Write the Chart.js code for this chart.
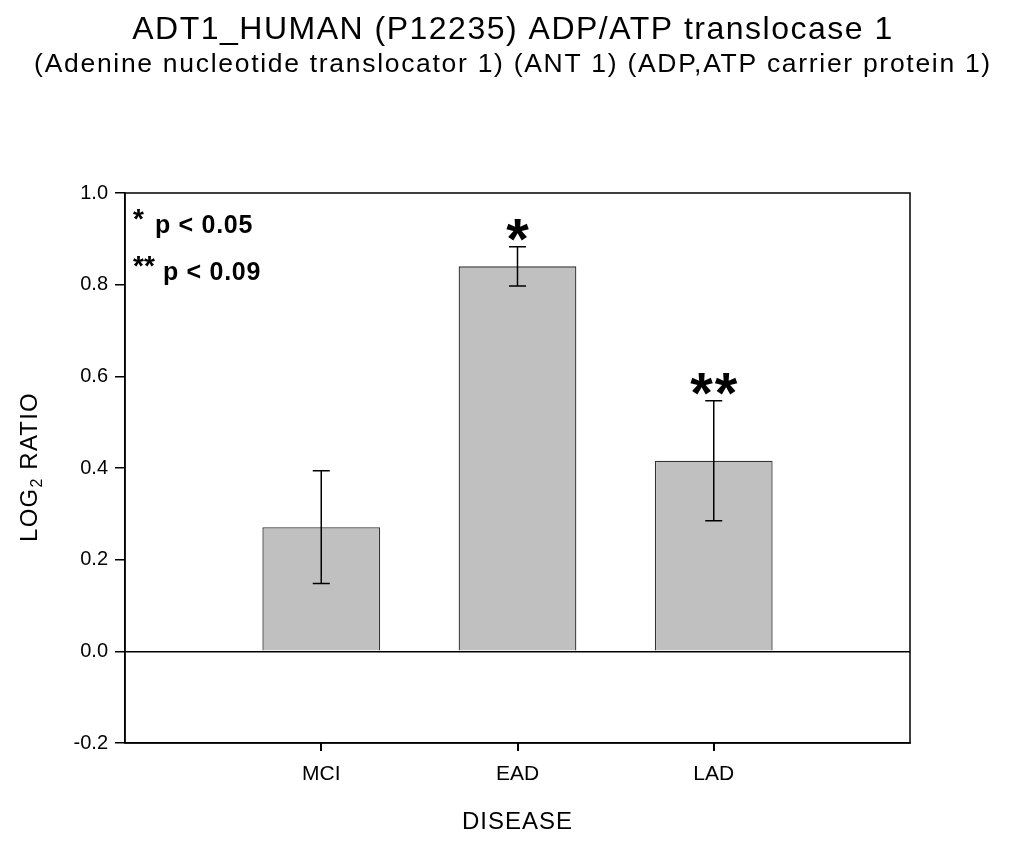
<!DOCTYPE html>
<html lang="en">
<head>
  <meta charset="UTF-8">
  <title>ADT1_HUMAN ADP/ATP translocase 1</title>
  <script src="https://cdn.jsdelivr.net/npm/chart.js"></script>
  <style>
    body {
      margin: 0;
      background: #fff;
    }
    #wrap {
      width: 1017px;
      height: 843px;
    }
  </style>
</head>
<body>
  <div id="wrap"><canvas id="chart" width="1017" height="843"></canvas></div>

  <script>
    // data (empty slots pad the axis on both sides)
    const categories = ['', 'MCI', 'EAD', 'LAD', ''];
    const log2Ratio = [null, 0.271, 0.840, 0.416, null];
    const stdError = [null, 0.123, 0.043, 0.131, null];
    const sigMarks = ['', '', '*', '**', ''];
    const yTicks = [-0.2, 0.0, 0.2, 0.4, 0.6, 0.8, 1.0];

    const titleLines = [
      'ADT1_HUMAN (P12235) ADP/ATP translocase 1',
      '(Adenine nucleotide translocator 1) (ANT 1) (ADP,ATP carrier protein 1)'
    ];
    const sigNotes = [['*', 'p < 0.05'], ['**', 'p < 0.09']];

    const FONT = '"Liberation Sans", Arial, Helvetica, sans-serif';

    const extras = {
      id: 'extras',
      afterDatasetsDraw(chart) {
        const ctx = chart.ctx;
        const y = chart.scales.y;
        const meta = chart.getDatasetMeta(0);
        ctx.save();
        ctx.strokeStyle = '#000';
        ctx.fillStyle = '#000';
        ctx.lineWidth = 1.5;
        log2Ratio.forEach((v, i) => {
          if (v === null) return;
          const x = meta.data[i].x;
          const top = y.getPixelForValue(v + stdError[i]);
          const bot = y.getPixelForValue(v - stdError[i]);
          ctx.beginPath();
          ctx.moveTo(x, top); ctx.lineTo(x, bot);
          ctx.moveTo(x - 8.5, top); ctx.lineTo(x + 8.5, top);
          ctx.moveTo(x - 8.5, bot); ctx.lineTo(x + 8.5, bot);
          ctx.stroke();
          if (sigMarks[i]) {
            ctx.font = 'bold 58px ' + FONT;
            ctx.textAlign = 'center';
            ctx.textBaseline = 'alphabetic';
            ctx.letterSpacing = '2px';
            ctx.fillText(sigMarks[i], x + 1, top + 12);
            ctx.letterSpacing = '0px';
          }
        });
        ctx.restore();
      },
      afterDraw(chart) {
        const ctx = chart.ctx;
        const a = chart.chartArea;
        const meta = chart.getDatasetMeta(0);
        ctx.save();
        ctx.strokeStyle = '#000';
        ctx.lineWidth = 1.5;
        ctx.strokeRect(a.left, a.top, a.right - a.left, a.bottom - a.top);

        // tick marks under the named categories
        ctx.lineWidth = 2;
        categories.forEach((c, i) => {
          if (!c) return;
          const px = Math.round(meta.data[i].x);
          ctx.beginPath();
          ctx.moveTo(px, a.bottom);
          ctx.lineTo(px, a.bottom + 8);
          ctx.stroke();
        });

        ctx.fillStyle = '#000';
        ctx.textAlign = 'center';
        ctx.textBaseline = 'alphabetic';
        ctx.font = '32px ' + FONT;
        ctx.letterSpacing = '1.5px';
        ctx.fillText(titleLines[0], 513, 39);
        ctx.font = '26.5px ' + FONT;
        ctx.letterSpacing = '1.7px';
        ctx.fillText(titleLines[1], 513, 72);

        // significance key
        ctx.textAlign = 'left';
        sigNotes.forEach((n, k) => {
          ctx.letterSpacing = '0px';
          ctx.font = 'bold 28px ' + FONT;
          ctx.fillText(n[0], 133, 228 + k * 47);
          ctx.letterSpacing = '0.7px';
          ctx.font = 'bold 25px ' + FONT;
          ctx.fillText(n[1], k ? 163 : 155, 233 + k * 47);
        });

        // axis titles
        ctx.textAlign = 'center';
        ctx.font = '24px ' + FONT;
        ctx.letterSpacing = '1px';
        ctx.fillText('DISEASE', (a.left + a.right) / 2, 829);

        ctx.translate(37, 467);
        ctx.rotate(-Math.PI / 2);
        ctx.textAlign = 'left';
        ctx.letterSpacing = '1.2px';
        const w1 = ctx.measureText('LOG').width;
        ctx.font = '16px ' + FONT;
        const w2 = ctx.measureText('2').width;
        ctx.font = '24px ' + FONT;
        const w3 = ctx.measureText(' RATIO').width;
        let x0 = -(w1 + w2 + w3) / 2;
        ctx.fillText('LOG', x0, 0);
        ctx.font = '16px ' + FONT;
        ctx.fillText('2', x0 + w1, 5);
        ctx.font = '24px ' + FONT;
        ctx.fillText(' RATIO', x0 + w1 + w2, 0);
        ctx.restore();
      }
    };

    new Chart(document.getElementById('chart'), {
      type: 'bar',
      data: {
        labels: categories,
        datasets: [{
          data: log2Ratio,
          backgroundColor: '#c0c0c0',
          borderColor: '#333',
          borderWidth: 1.3,
          barPercentage: 0.6,
          categoryPercentage: 1
        }]
      },
      options: {
        responsive: false,
        animation: false,
        layout: { padding: { top: 193, right: 107, left: 0, bottom: 0 } },
        plugins: {
          legend: { display: false },
          tooltip: { enabled: false }
        },
        scales: {
          x: {
            offset: false,
            grid: {
              offset: false,
              drawOnChartArea: false,
              tickLength: 8,
              tickColor: 'rgba(0,0,0,0)'
            },
            border: { color: '#000', width: 1.5 },
            ticks: { color: '#000', font: { size: 21, family: FONT }, padding: 11, maxRotation: 0, autoSkip: false },
            afterFit(s) { s.height = 100; }
          },
          y: {
            min: yTicks[0],
            max: yTicks[yTicks.length - 1],
            afterBuildTicks(s) { s.ticks = yTicks.map(v => ({ value: v })); },
            grid: {
              color: c => (c.tick && c.tick.value === 0) ? '#000' : 'rgba(0,0,0,0)',
              tickColor: '#000',
              tickLength: 10,
              lineWidth: 1.5
            },
            border: { color: '#000', width: 1.5 },
            ticks: {
              color: '#000',
              font: { size: 20, family: FONT },
              padding: 7,
              callback: v => v.toFixed(1)
            },
            afterFit(s) { s.width = 125; }
          }
        }
      },
      plugins: [extras]
    });
  </script>
</body>
</html>
